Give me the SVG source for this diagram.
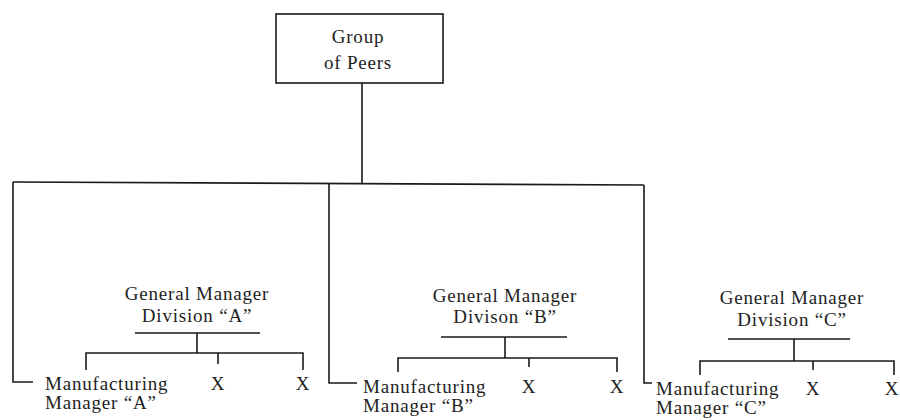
<svg xmlns="http://www.w3.org/2000/svg" width="900" height="420" viewBox="0 0 900 420">
<style>
.t{font-family:'Liberation Serif','Times New Roman','DejaVu Serif',serif;font-size:19px;fill:#1e1e1e;letter-spacing:0.8px}
.m{text-anchor:middle}
.ln{fill:none;stroke:#1a1a1a;stroke-width:1.6}
</style>
<rect width="900" height="420" fill="#ffffff"/>
<g id="connectors" class="ln">
<path d="M362,83 V183"/>
<path d="M13,182 L644,185"/>
<path d="M13,182 V382 H33"/>
<path d="M329,183 V383 H357"/>
<path d="M644,185 V383 H652"/>
</g>
<g id="peers">
<rect class="ln" x="276" y="14" width="167" height="69"/>
<text class="t m" x="358" y="43">Group</text>
<text class="t m" x="358" y="69">of Peers</text>
</g>
<g id="divA">
<text class="t m" x="197" y="300">General Manager</text>
<text class="t m" x="197" y="322">Division “A”</text>
<path class="ln" d="M135,333 H260 M197,333 V353 M86,370 V353 H303 V370 M218,353 V364"/>
<text class="t" x="45" y="390">Manufacturing</text>
<text class="t" x="45" y="409">Manager “A”</text>
<text class="t m" x="218" y="390">X</text>
<text class="t m" x="303" y="390">X</text>
</g>
<g id="divB">
<text class="t m" x="505" y="302">General Manager</text>
<text class="t m" x="505" y="323">Divison “B”</text>
<path class="ln" d="M441,337 H567 M505,337 V358 M398,372 V358 H617 V372 M529,358 V367"/>
<text class="t" x="363" y="393">Manufacturing</text>
<text class="t" x="363" y="412">Manager “B”</text>
<text class="t m" x="529" y="393">X</text>
<text class="t m" x="617" y="393">X</text>
</g>
<g id="divC">
<text class="t m" x="792" y="304">General Manager</text>
<text class="t m" x="792" y="326">Division “C”</text>
<path class="ln" d="M728,339 H850 M794,339 V361 M700,375 V361 H894 V375 M813,361 V370"/>
<text class="t" x="656" y="395">Manufacturing</text>
<text class="t" x="656" y="414">Manager “C”</text>
<text class="t m" x="813" y="395">X</text>
<text class="t m" x="892" y="395">X</text>
</g>
</svg>
